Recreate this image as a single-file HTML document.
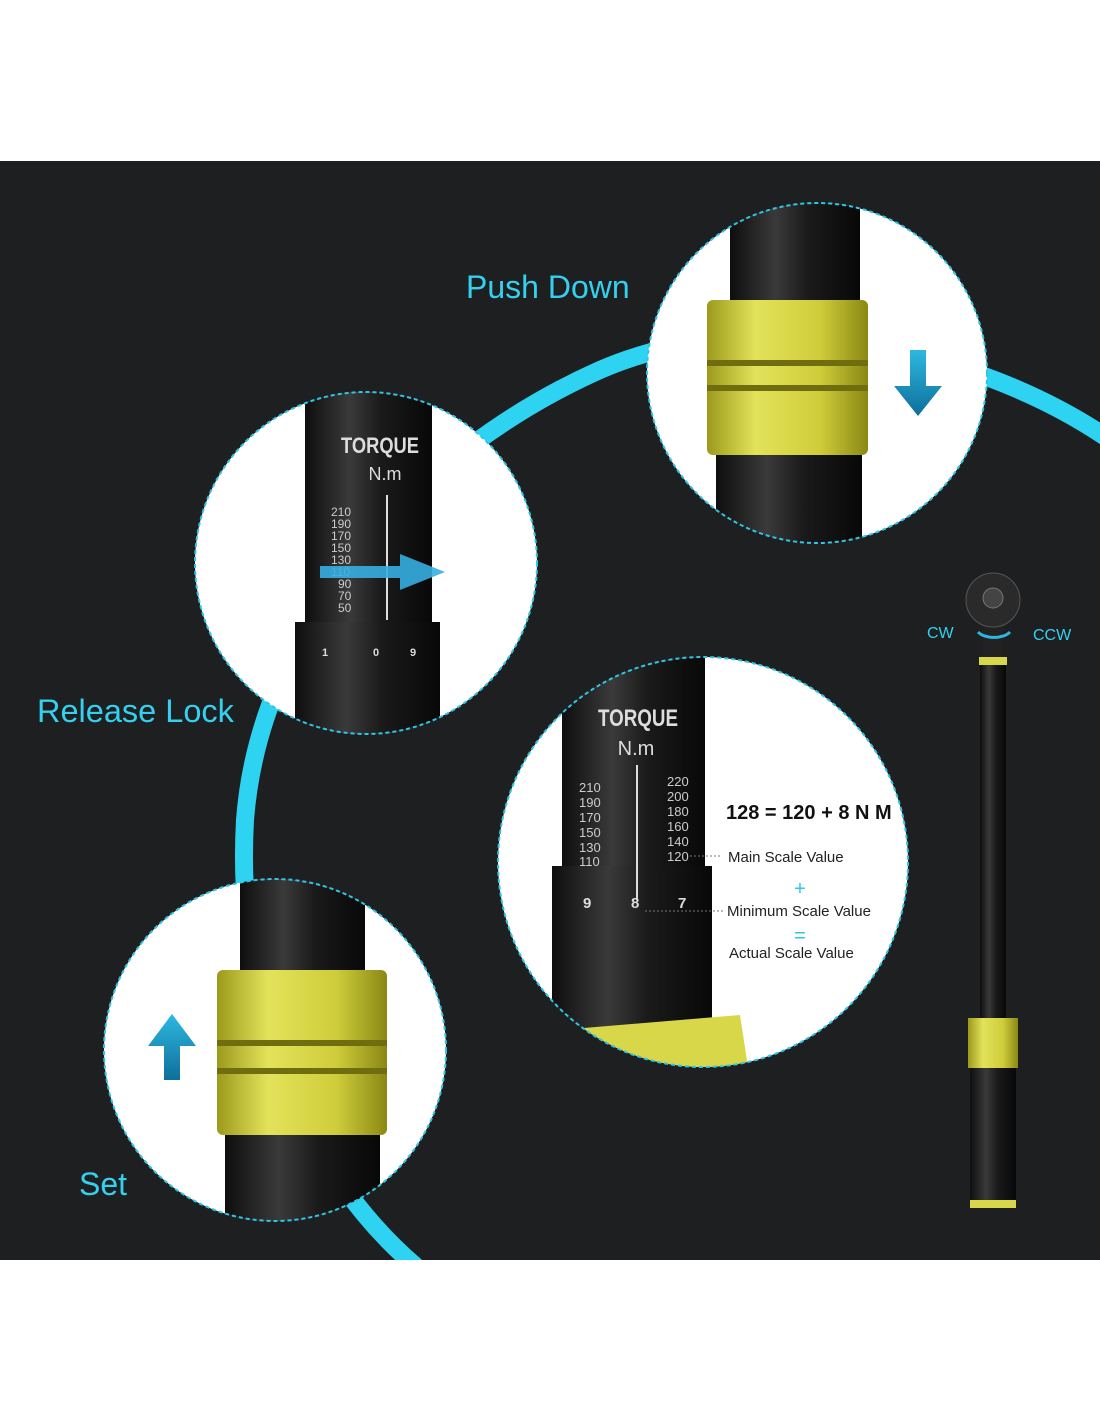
<!DOCTYPE html>
<html><head><meta charset="utf-8"><style>
html,body{margin:0;padding:0;background:#fff;}
svg{display:block}
text{font-family:"Liberation Sans",sans-serif}
</style></head><body>
<svg width="1100" height="1422" viewBox="0 0 1100 1422" xmlns="http://www.w3.org/2000/svg">
<defs>
<linearGradient id="sh" x1="0" x2="1"><stop offset="0" stop-color="#0e0e0e"/><stop offset=".35" stop-color="#3a3a3a"/><stop offset=".6" stop-color="#1a1a1a"/><stop offset="1" stop-color="#080808"/></linearGradient>
<linearGradient id="ye" x1="0" x2="1"><stop offset="0" stop-color="#9c9a1c"/><stop offset=".3" stop-color="#e3e25a"/><stop offset=".7" stop-color="#cfcd3a"/><stop offset="1" stop-color="#8a8814"/></linearGradient>
<linearGradient id="ar" x1="0" y1="0" x2="0" y2="1"><stop offset="0" stop-color="#2db8e0"/><stop offset="1" stop-color="#0e6f9a"/></linearGradient>
<clipPath id="c1"><circle cx="817" cy="373" r="170"/></clipPath>
<clipPath id="c2"><circle cx="366" cy="563" r="171"/></clipPath>
<clipPath id="c3"><circle cx="703" cy="862" r="205"/></clipPath>
<clipPath id="c4"><circle cx="275" cy="1050" r="171"/></clipPath>
<clipPath id="dk"><rect x="0" y="161" width="1100" height="1099"/></clipPath>
</defs>
<rect x="0" y="161" width="1100" height="1099" fill="#1e1f21"/>
<g clip-path="url(#dk)">
<path d="M1110 440 C980 350 760 300 600 370 C420 450 260 620 245 820 C235 1000 300 1170 420 1270" fill="none" stroke="#2fd3f2" stroke-width="18"/>
</g>
<circle cx="817" cy="373" r="170" fill="#fff"/>
<g clip-path="url(#c1)">
<rect x="730" y="190" width="130" height="360" fill="url(#sh)"/>
<rect x="716" y="455" width="146" height="100" fill="url(#sh)"/>
<rect x="707" y="300" width="161" height="155" rx="6" fill="url(#ye)"/>
<rect x="707" y="360" width="161" height="6" fill="#6f6d10"/>
<rect x="707" y="385" width="161" height="6" fill="#6f6d10"/>
</g>
<circle cx="817" cy="373" r="170" fill="none" stroke="#2fc6e6" stroke-width="2" stroke-dasharray="4 3"/>
<path d="M910 350h16v36h16l-24 30-24-30h16z" fill="url(#ar)"/>
<circle cx="366" cy="563" r="171" fill="#fff"/>
<g clip-path="url(#c2)">
<rect x="305" y="380" width="127" height="260" fill="url(#sh)"/>
<rect x="295" y="622" width="145" height="120" fill="url(#sh)"/>
<text x="380" y="453" fill="#ddd" font-size="22" font-weight="bold" text-anchor="middle" textLength="78" lengthAdjust="spacingAndGlyphs">TORQUE</text>
<text x="385" y="480" fill="#ddd" font-size="18" text-anchor="middle">N.m</text>
<g fill="#ccc" font-size="12"><text x="331" y="516">210</text><text x="331" y="528">190</text><text x="331" y="540">170</text><text x="331" y="552">150</text><text x="331" y="564">130</text><text x="331" y="576">110</text><text x="338" y="588">90</text><text x="338" y="600">70</text><text x="338" y="612">50</text></g>
<line x1="387" y1="495" x2="387" y2="620" stroke="#ddd" stroke-width="2"/>
<g fill="#ddd" font-size="11" font-weight="bold"><text x="373" y="656">0</text><text x="322" y="656">1</text><text x="410" y="656">9</text></g>
</g>
<path d="M320 566h80v-12l45 18-45 18v-12h-80z" fill="#36aee0" opacity=".9"/>
<circle cx="366" cy="563" r="171" fill="none" stroke="#2fc6e6" stroke-width="2" stroke-dasharray="4 3"/>
<circle cx="703" cy="862" r="205" fill="#fff"/>
<g clip-path="url(#c3)">
<rect x="562" y="650" width="143" height="220" fill="url(#sh)"/>
<rect x="552" y="866" width="160" height="180" fill="url(#sh)"/>
<path d="M560 1030 L740 1015 L750 1080 L560 1080z" fill="#d8d74a"/>
<text x="638" y="726" fill="#ddd" font-size="24" font-weight="bold" text-anchor="middle" textLength="80" lengthAdjust="spacingAndGlyphs">TORQUE</text>
<text x="636" y="755" fill="#ddd" font-size="20" text-anchor="middle">N.m</text>
<g fill="#ccc" font-size="13"><text x="579" y="792">210</text><text x="579" y="807">190</text><text x="579" y="822">170</text><text x="579" y="837">150</text><text x="579" y="852">130</text><text x="579" y="866">110</text>
<text x="667" y="786">220</text><text x="667" y="801">200</text><text x="667" y="816">180</text><text x="667" y="831">160</text><text x="667" y="846">140</text><text x="667" y="861">120</text></g>
<line x1="637" y1="765" x2="637" y2="900" stroke="#ddd" stroke-width="2"/>
<g fill="#ddd" font-size="15" font-weight="bold"><text x="631" y="908">8</text><text x="583" y="908">9</text><text x="678" y="908">7</text></g>
</g>
<circle cx="703" cy="862" r="205" fill="none" stroke="#2fc6e6" stroke-width="2" stroke-dasharray="4 3"/>
<text x="726" y="819" font-family="Liberation Serif,serif" font-size="20" font-weight="bold" fill="#111">128 = 120 + 8 N M</text>
<line x1="690" y1="856" x2="722" y2="856" stroke="#777" stroke-dasharray="2 2"/>
<text x="728" y="862" font-size="15" fill="#222">Main Scale Value</text>
<text x="800" y="895" font-size="20" fill="#2fc6e6" text-anchor="middle">+</text>
<line x1="645" y1="911" x2="724" y2="911" stroke="#777" stroke-dasharray="2 2"/>
<text x="727" y="916" font-size="15" fill="#222">Minimum Scale Value</text>
<text x="800" y="942" font-size="20" fill="#2fc6e6" text-anchor="middle">=</text>
<text x="729" y="958" font-size="15" fill="#222">Actual Scale Value</text>
<circle cx="275" cy="1050" r="171" fill="#fff"/>
<g clip-path="url(#c4)">
<rect x="240" y="870" width="125" height="110" fill="url(#sh)"/>
<rect x="225" y="1130" width="155" height="110" fill="url(#sh)"/>
<rect x="217" y="970" width="170" height="165" rx="6" fill="url(#ye)"/>
<rect x="217" y="1040" width="170" height="6" fill="#6f6d10"/>
<rect x="217" y="1068" width="170" height="6" fill="#6f6d10"/>
</g>
<circle cx="275" cy="1050" r="171" fill="none" stroke="#2fc6e6" stroke-width="2" stroke-dasharray="4 3"/>
<path d="M164 1080h16v-34h16l-24-32-24 32h16z" fill="url(#ar)"/>
<text x="466" y="298" font-size="32" fill="#35d0f0">Push Down</text>
<text x="37" y="722" font-size="32.5" fill="#35d0f0">Release Lock</text>
<text x="79" y="1195" font-size="32" fill="#35d0f0">Set</text>
<text x="927" y="638" font-size="16" fill="#35d0f0">CW</text>
<text x="1033" y="640" font-size="16" fill="#35d0f0">CCW</text>
<rect x="983" y="620" width="20" height="40" fill="#222"/>
<circle cx="993" cy="600" r="27" fill="#2a2a2a" stroke="#555"/>
<circle cx="993" cy="598" r="10" fill="#444" stroke="#777"/>
<rect x="979" y="657" width="28" height="8" fill="#d8d74a"/>
<rect x="980" y="665" width="26" height="355" fill="url(#sh)"/>
<rect x="968" y="1018" width="50" height="50" fill="url(#ye)"/>
<rect x="970" y="1068" width="46" height="135" fill="url(#sh)"/>
<rect x="970" y="1200" width="46" height="8" fill="#d8d74a"/>
<path d="M978 632 a18 10 0 0 0 32 0" fill="none" stroke="#2fb6e0" stroke-width="3"/>
</svg>
</body></html>
